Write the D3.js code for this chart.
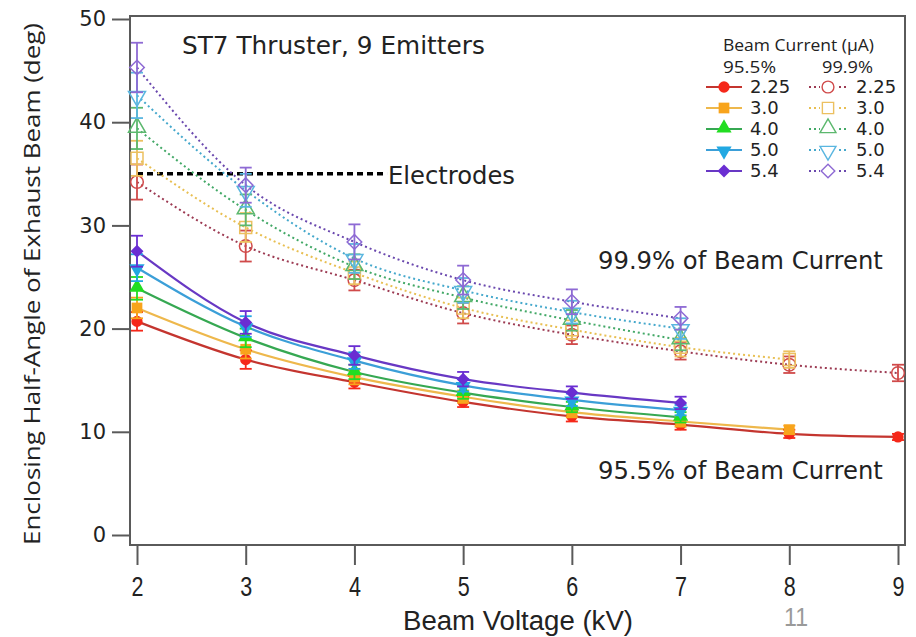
<!DOCTYPE html>
<html>
<head>
<meta charset="utf-8">
<script src="https://cdn.jsdelivr.net/npm/d3@7"></script>
<style>
  body { margin: 0; background: #fff; }
  svg { display: block; }
</style>
</head>
<body>
<svg id="chart" width="916" height="637"></svg>
<script>
// Beam currents (uA), one series per current for each beam fraction
const currents = ["2.25", "3.0", "4.0", "5.0", "5.4"];
const voltages = [2, 3, 4, 5, 6, 7, 8, 9];

// 95.5% of beam current (filled markers, solid fits)
const angle955 = [
  [20.7, 17.0, 14.8, 12.9, 11.5, 10.7, 9.8, 9.5],
  [22.0, 18.0, 15.3, 13.4, 11.9, 11.0, 10.2],
  [23.9, 19.1, 15.8, 13.8, 12.4, 11.4],
  [25.9, 20.2, 16.9, 14.5, 13.1, 12.1],
  [27.5, 20.6, 17.4, 15.1, 13.8, 12.8]
];
const err955 = [
  [0.9, 0.9, 0.6, 0.5, 0.5, 0.5, 0.4, 0.3],
  [1.0, 0.9, 0.7, 0.6, 0.5, 0.5, 0.4],
  [1.1, 0.9, 0.7, 0.6, 0.5, 0.5],
  [1.3, 1.0, 0.8, 0.6, 0.6, 0.5],
  [1.5, 1.1, 0.9, 0.7, 0.6, 0.6]
];

// 99.9% of beam current (open markers, dotted fits)
const angle999 = [
  [34.2, 28.0, 24.7, 21.5, 19.4, 17.8, 16.5, 15.7],
  [36.5, 29.8, 25.4, 22.0, 19.9, 18.2, 17.0],
  [39.4, 31.5, 26.0, 23.0, 20.8, 18.9],
  [42.6, 33.4, 26.8, 23.7, 21.6, 20.0],
  [45.3, 33.9, 28.4, 24.7, 22.6, 21.0]
];
const err999 = [
  [1.7, 1.5, 1.0, 1.0, 0.9, 0.8, 0.8, 0.8],
  [1.7, 1.4, 1.1, 1.0, 0.9, 0.9, 0.8],
  [2.0, 1.5, 1.2, 1.1, 1.0, 1.0],
  [2.2, 1.6, 1.4, 1.2, 1.1, 1.0],
  [2.4, 1.7, 1.7, 1.4, 1.2, 1.1]
];

const xTicks = [2, 3, 4, 5, 6, 7, 8, 9];
const yTicks = [0, 10, 20, 30, 40, 50];
const electrodeAngle = 35;
const electrodeSpan = [2, 4.3];

const fillColors = ["#f5281a", "#f8a41c", "#22dd22", "#22a8e2", "#6a2ed2"];
const solidLine = ["#c4352f", "#eeb84c", "#36a852", "#3b9fd8", "#6838c4"];
const openColors = ["#d04a4a", "#ecc060", "#5cb86e", "#5ab6e0", "#8e6ad4"];
const dotLine = ["#9c3a52", "#e8bf52", "#42a866", "#45a8cc", "#6a48ae"];

const svg = d3.select("#chart");
const x = d3.scaleLinear().domain([2, 9]).range([137, 898]);
const y = d3.scaleLinear().domain([0, 50]).range([535, 19]);
const frame = { left: 130, right: 905, top: 16, bottom: 545 };

function fitWidth(t, w) {
  const len = t.node().getComputedTextLength();
  t.attr("font-size", parseFloat(t.attr("font-size")) * w / len);
  return t;
}
// squeeze text to a given width (stands in for the narrow fonts of the original)
function squeeze(t, w) {
  return t.attr("textLength", w).attr("lengthAdjust", "spacingAndGlyphs");
}

const symbols = [d3.symbolCircle, d3.symbolSquare, d3.symbolTriangle, d3.symbolTriangle, d3.symbolSquare];
const symSize = [100, 115, 100, 100, 85];
const symRot = [0, 0, 0, 180, 45];
const symDy = [0, 0, -1, 1, 0];

// frame + axes
svg.append("rect")
  .attr("x", frame.left).attr("y", frame.top)
  .attr("width", frame.right - frame.left).attr("height", frame.bottom - frame.top)
  .attr("fill", "none").attr("stroke", "#5a5a5a").attr("stroke-width", 2);

const yAxis = svg.append("g").attr("transform", `translate(${frame.left},0)`)
  .call(d3.axisLeft(y).tickValues(yTicks).tickSize(18).tickPadding(6));
yAxis.select(".domain").remove();
yAxis.selectAll("line").attr("stroke", "#5a5a5a").attr("stroke-width", 2);
yAxis.selectAll("text").attr("font-family", "DejaVu Sans").attr("font-size", 21).attr("fill", "#222");

const xAxis = svg.append("g").attr("transform", `translate(0,${frame.bottom})`)
  .call(d3.axisBottom(x).tickValues(xTicks).tickFormat(d3.format("d")).tickSize(20).tickPadding(12));
xAxis.select(".domain").remove();
xAxis.selectAll("line").attr("stroke", "#5a5a5a").attr("stroke-width", 2);
xAxis.selectAll("text").attr("font-family", "Liberation Sans")
  .attr("font-size", 27).attr("fill", "#222")
  .attr("textLength", 12).attr("lengthAdjust", "spacingAndGlyphs");

// axis titles
squeeze(svg.append("text")
  .attr("transform", "translate(40,284) rotate(-90)")
  .attr("text-anchor", "middle")
  .attr("font-family", "Open Sans").attr("font-size", 22).attr("fill", "#222")
  .text("Enclosing Half-Angle of Exhaust Beam (deg)"), 522);

squeeze(svg.append("text")
  .attr("x", 518).attr("y", 630)
  .attr("text-anchor", "middle")
  .attr("font-family", "Liberation Sans").attr("font-size", 27).attr("fill", "#222")
  .text("Beam Voltage (kV)"), 230);

squeeze(svg.append("text")
  .attr("x", 796).attr("y", 626)
  .attr("text-anchor", "middle")
  .attr("font-family", "Liberation Sans").attr("font-size", 26).attr("fill", "#9a9a9a")
  .text("11"), 24);

const plot = svg.append("g");

// electrodes reference line
plot.append("line")
  .attr("x1", x(electrodeSpan[0])).attr("x2", x(electrodeSpan[1]))
  .attr("y1", y(electrodeAngle)).attr("y2", y(electrodeAngle))
  .attr("stroke", "#000").attr("stroke-width", 3.5).attr("stroke-dasharray", "6,4");

const line = d3.line().x(d => x(d[0])).y(d => y(d[1])).curve(d3.curveMonotoneX);

function drawSet(vals, errs, lineColors, markColors, open, dash) {
  vals.forEach((vs, i) => {
    const pts = vs.map((v, j) => [voltages[j], v, errs[i][j]]);
    plot.append("path").datum(pts)
      .attr("d", line).attr("fill", "none")
      .attr("stroke", lineColors[i]).attr("stroke-width", open ? 2 : 2.2)
      .attr("stroke-dasharray", dash);
  });
  vals.forEach((vs, i) => {
    const pts = vs.map((v, j) => [voltages[j], v, errs[i][j]]);
    const g = plot.append("g");
    g.selectAll("path.m").data(pts).join("path").attr("class", "m")
      .attr("d", d3.symbol().type(symbols[i]).size(open ? symSize[i] * 1.25 : symSize[i]))
      .attr("transform", d => `translate(${x(d[0])},${y(d[1]) + symDy[i]}) rotate(${symRot[i]})`)
      .attr("fill", open ? "none" : markColors[i])
      .attr("stroke", open ? markColors[i] : "none")
      .attr("stroke-width", 1.5);
    const eb = g.selectAll("g.e").data(pts).join("g").attr("class", "e")
      .attr("stroke", markColors[i]).attr("stroke-width", 1.8);
    eb.append("line")
      .attr("x1", d => x(d[0])).attr("x2", d => x(d[0]))
      .attr("y1", d => y(d[1] - d[2])).attr("y2", d => y(d[1] + d[2]));
    [-1, 1].forEach(s => eb.append("line")
      .attr("x1", d => x(d[0]) - 6).attr("x2", d => x(d[0]) + 6)
      .attr("y1", d => y(d[1] + s * d[2])).attr("y2", d => y(d[1] + s * d[2])));
  });
}

drawSet(angle999, err999, dotLine, openColors, true, "2,3");
drawSet(angle955, err955, solidLine, fillColors, false, null);

// annotations
const font = "DejaVu Sans";
fitWidth(svg.append("text").attr("x", 182).attr("y", 54)
  .attr("font-family", font).attr("font-size", 20).attr("fill", "#222")
  .text("ST7 Thruster, 9 Emitters"), 303);
fitWidth(svg.append("text").attr("x", 388).attr("y", 184)
  .attr("font-family", font).attr("font-size", 20).attr("fill", "#222")
  .text("Electrodes"), 127);
fitWidth(svg.append("text").attr("x", 598).attr("y", 269)
  .attr("font-family", font).attr("font-size", 20).attr("fill", "#222")
  .text("99.9% of Beam Current"), 285);
fitWidth(svg.append("text").attr("x", 598).attr("y", 479)
  .attr("font-family", font).attr("font-size", 20).attr("fill", "#222")
  .text("95.5% of Beam Current"), 285);

// legend
const lg = svg.append("g").attr("font-family", font).attr("fill", "#222");
squeeze(lg.append("text").attr("x", 723).attr("y", 51).attr("font-size", 16)
  .attr("font-family", "Open Sans").text("Beam Current (\u03bcA)"), 151);
squeeze(lg.append("text").attr("x", 723).attr("y", 73).attr("font-size", 16)
  .attr("font-family", "Open Sans").text("95.5%"), 53);
squeeze(lg.append("text").attr("x", 822).attr("y", 73).attr("font-size", 16)
  .attr("font-family", "Open Sans").text("99.9%"), 51);

currents.forEach((c, i) => {
  const ry = 87 + i * 21;
  lg.append("line").attr("x1", 706).attr("x2", 742).attr("y1", ry).attr("y2", ry)
    .attr("stroke", solidLine[i]).attr("stroke-width", 2);
  lg.append("path")
    .attr("d", d3.symbol().type(symbols[i]).size(symSize[i]))
    .attr("transform", `translate(724,${ry + symDy[i]}) rotate(${symRot[i]})`)
    .attr("fill", fillColors[i]);
  lg.append("text").attr("x", 750).attr("y", ry).attr("dy", "0.35em")
    .attr("font-size", 18).text(c);

  lg.append("line").attr("x1", 809).attr("x2", 848).attr("y1", ry).attr("y2", ry)
    .attr("stroke", dotLine[i]).attr("stroke-width", 2).attr("stroke-dasharray", "2,3");
  lg.append("rect").attr("x", 820).attr("y", ry - 7).attr("width", 16).attr("height", 14).attr("fill", "#fff");
  lg.append("path")
    .attr("d", d3.symbol().type(symbols[i]).size(symSize[i] * 1.1))
    .attr("transform", `translate(828,${ry + symDy[i]}) rotate(${symRot[i]})`)
    .attr("fill", "none").attr("stroke", openColors[i]).attr("stroke-width", 1.4);
  lg.append("text").attr("x", 856).attr("y", ry).attr("dy", "0.35em")
    .attr("font-size", 18).text(c);
});
</script>
</body>
</html>
